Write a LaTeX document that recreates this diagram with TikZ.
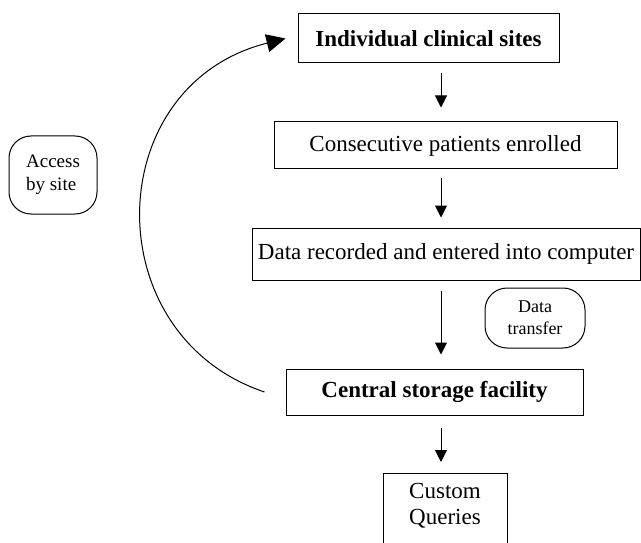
\documentclass[tikz,border=0pt]{standalone}
\usepackage{fontspec}
\setmainfont{Liberation Serif}
\usetikzlibrary{arrows.meta}
\begin{document}
\begin{tikzpicture}[x=1pt,y=-1pt,
		stage/.style={draw,line width=1pt,inner sep=0pt,font=\fontsize{23}{27}\selectfont},
		note/.style={draw,line width=1pt,rounded corners=22pt,inner sep=0pt,font=\fontsize{19}{23}\selectfont},
		flow/.style={line width=1pt,-{Triangle[length=12pt,width=12pt]}},
		back/.style={line width=1pt,-{Triangle[length=19pt,width=18pt]}}]
	\clip (0,0) rectangle (641,543);
	\coordinate (spine) at (441,0);
	\node[stage,minimum width=261,minimum height=49] (sites) at (428.5,38.5) {\textbf{Individual clinical sites}};
	\node[stage,minimum width=343,minimum height=47] (enrol) at (445.5,145.5) {Consecutive patients enrolled};
	\node[stage,minimum width=388,minimum height=52] (record) at (446,254) {Data recorded and entered into computer};
	\node[stage,minimum width=297,minimum height=46] (storage) at (434.5,392) {\textbf{Central storage facility}};
	\node[font=\fontsize{23}{26}\selectfont,align=center] (queries) at (445,506) {Custom\\Queries};
	\draw[line width=1pt] (383,560) |- (507,473) -- (507,560);
	\node[note,minimum width=100,minimum height=60,align=center,font=\fontsize{18}{22}\selectfont] (transfer) at (535,318) {Data\\transfer};
	\node[note,minimum width=88,minimum height=78,align=left] (access) at (53,175) {Access\\by site};
	% downward steps
	\draw[flow,shorten <=10pt,shorten >=14pt] (sites.south -| spine) -- (enrol.north -| spine);
	\draw[flow,shorten <=9pt,shorten >=10pt] (enrol.south -| spine) -- (record.north -| spine);
	\draw[flow,shorten <=10pt,shorten >=14pt] (record.south -| spine) -- (storage.north -| spine);
	\draw[flow,shorten <=12pt,shorten >=11pt] (storage.south -| spine) -- (spine |- 0,473);
	% feedback to the sites
	\draw[back] ([xshift=-21pt]storage.west) .. controls (95,335) and (100,85) .. ([xshift=-12pt]sites.west);
\end{tikzpicture}
\end{document}
